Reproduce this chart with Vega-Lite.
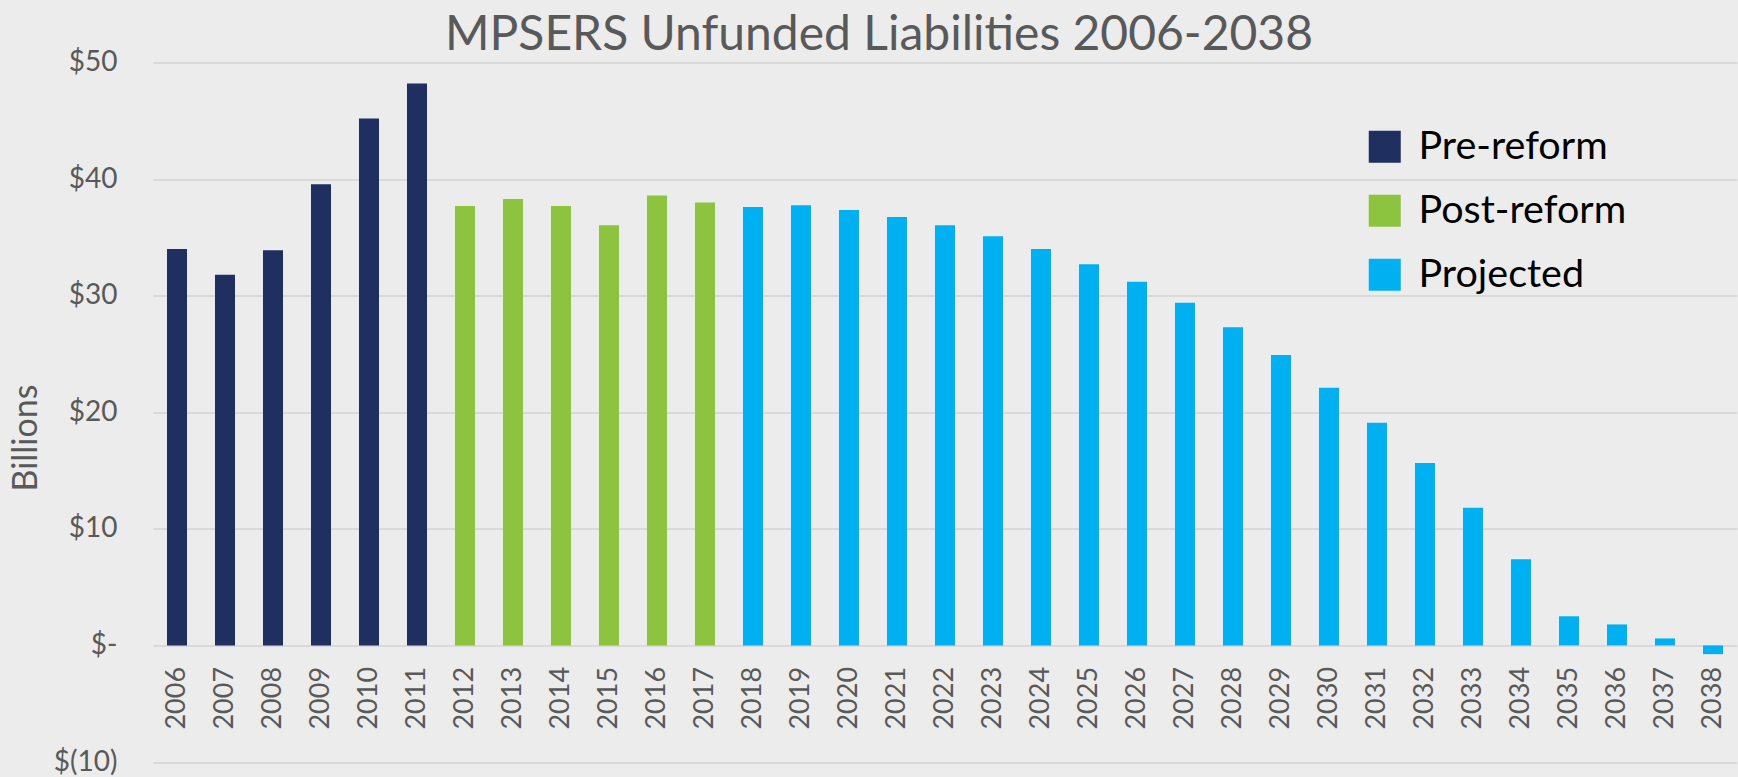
{
  "$schema": "https://vega.github.io/schema/vega-lite/v6.json",
  "width": 1584,
  "height": 699.5,
  "autosize": {"type": "none"},
  "padding": {"left": 153, "top": 62.5, "right": 1, "bottom": 15},
  "background": "#ececec",
  "config": {"view": {"stroke": null}, "font": "Lato"},
  "title": {
    "text": "MPSERS Unfunded Liabilities 2006-2038",
    "fontSize": 48,
    "fontWeight": "normal",
    "color": "#595959",
    "anchor": "middle",
    "frame": "group",
    "dx": -66,
    "dy": 11,
    "offset": 0
  },
  "data": {
    "values": [
      {"year": "2006", "value": 34.0, "period": "Pre-reform"},
      {"year": "2007", "value": 31.8, "period": "Pre-reform"},
      {"year": "2008", "value": 33.9, "period": "Pre-reform"},
      {"year": "2009", "value": 39.55, "period": "Pre-reform"},
      {"year": "2010", "value": 45.2, "period": "Pre-reform"},
      {"year": "2011", "value": 48.2, "period": "Pre-reform"},
      {"year": "2012", "value": 37.7, "period": "Post-reform"},
      {"year": "2013", "value": 38.3, "period": "Post-reform"},
      {"year": "2014", "value": 37.7, "period": "Post-reform"},
      {"year": "2015", "value": 36.05, "period": "Post-reform"},
      {"year": "2016", "value": 38.6, "period": "Post-reform"},
      {"year": "2017", "value": 38.0, "period": "Post-reform"},
      {"year": "2018", "value": 37.6, "period": "Projected"},
      {"year": "2019", "value": 37.75, "period": "Projected"},
      {"year": "2020", "value": 37.35, "period": "Projected"},
      {"year": "2021", "value": 36.75, "period": "Projected"},
      {"year": "2022", "value": 36.05, "period": "Projected"},
      {"year": "2023", "value": 35.1, "period": "Projected"},
      {"year": "2024", "value": 34.0, "period": "Projected"},
      {"year": "2025", "value": 32.7, "period": "Projected"},
      {"year": "2026", "value": 31.2, "period": "Projected"},
      {"year": "2027", "value": 29.4, "period": "Projected"},
      {"year": "2028", "value": 27.3, "period": "Projected"},
      {"year": "2029", "value": 24.9, "period": "Projected"},
      {"year": "2030", "value": 22.1, "period": "Projected"},
      {"year": "2031", "value": 19.1, "period": "Projected"},
      {"year": "2032", "value": 15.65, "period": "Projected"},
      {"year": "2033", "value": 11.8, "period": "Projected"},
      {"year": "2034", "value": 7.4, "period": "Projected"},
      {"year": "2035", "value": 2.5, "period": "Projected"},
      {"year": "2036", "value": 1.8, "period": "Projected"},
      {"year": "2037", "value": 0.6, "period": "Projected"},
      {"year": "2038", "value": -0.75, "period": "Projected"}
    ]
  },
  "mark": {"type": "bar"},
  "encoding": {
    "x": {
      "field": "year",
      "type": "ordinal",
      "sort": null,
      "scale": {"paddingInner": 0.583, "paddingOuter": 0.2915},
      "axis": {
        "title": null,
        "domain": false,
        "ticks": false,
        "labelAngle": -90,
        "labelFontSize": 27,
        "labelColor": "#595959",
        "labelPadding": 21,
        "offset": -116.58
      }
    },
    "y": {
      "field": "value",
      "type": "quantitative",
      "scale": {"domain": [-10, 50], "nice": false, "zero": false},
      "axis": {
        "values": [-10, 0, 10, 20, 30, 40, 50],
        "labelExpr": "datum.value == 0 ? '$-' : (datum.value < 0 ? '$(' + abs(datum.value) + ')' : '$' + datum.value)",
        "domain": false,
        "ticks": false,
        "labelFontSize": 28,
        "labelColor": "#595959",
        "labelPadding": 36,
        "gridColor": "#d9d9d9",
        "gridWidth": 2,
        "title": "Billions",
        "titleFontSize": 34,
        "titleFontWeight": "normal",
        "titleColor": "#595959",
        "titleAngle": 270,
        "titleAlign": "center",
        "titleBaseline": "bottom",
        "titleX": -110,
        "titleY": 375
      }
    },
    "color": {
      "field": "period",
      "type": "nominal",
      "scale": {
        "domain": ["Pre-reform", "Post-reform", "Projected"],
        "range": ["#1f3060", "#8cc43f", "#00b0f0"]
      },
      "legend": {
        "title": null,
        "orient": "none",
        "legendX": 1212,
        "legendY": 64.5,
        "padding": 0,
        "symbolType": "square",
        "symbolSize": 1024,
        "symbolStrokeWidth": 0,
        "symbolOpacity": 1,
        "labelFontSize": 39.5,
        "labelColor": "#000000",
        "labelOffset": 14,
        "labelLimit": 400,
        "rowPadding": 23
      }
    }
  }
}
